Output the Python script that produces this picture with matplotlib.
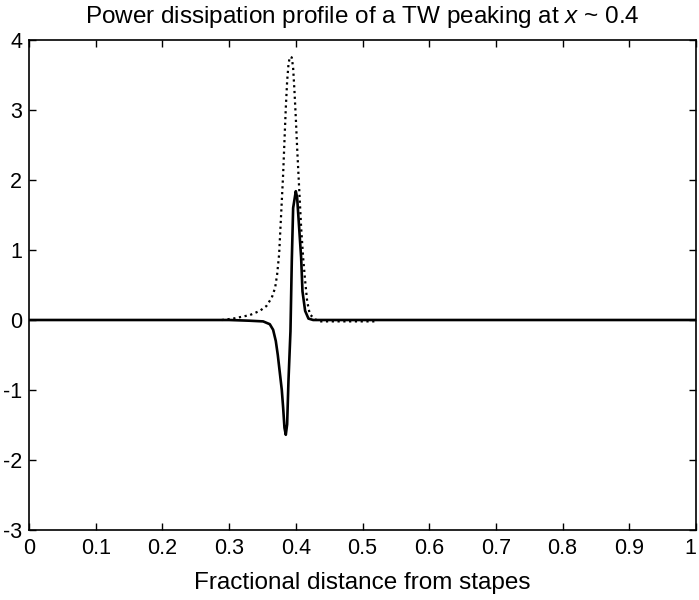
import matplotlib
matplotlib.use("Agg")
import matplotlib.pyplot as plt

plt.rcParams["font.family"] = ["Liberation Sans", "DejaVu Sans"]
plt.rcParams["axes.unicode_minus"] = False
plt.rcParams["mathtext.fontset"] = "custom"
plt.rcParams["mathtext.it"] = "Liberation Sans:italic"
plt.rcParams["mathtext.rm"] = "Liberation Sans"

# dotted curve
dot_x = [0.289, 0.306, 0.331, 0.346, 0.356, 0.364, 0.369, 0.372, 0.375, 0.377,
         0.379, 0.381, 0.383, 0.385, 0.387, 0.389, 0.391, 0.394, 0.396, 0.398,
         0.400, 0.402, 0.404, 0.406, 0.408, 0.411, 0.414, 0.417, 0.421, 0.429,
         0.436, 0.519]
dot_y = [0.0, 0.02, 0.07, 0.13, 0.20, 0.32, 0.46, 0.65, 0.94, 1.32,
         1.70, 2.08, 2.56, 3.03, 3.41, 3.65, 3.76, 3.75, 3.60, 3.27,
         2.89, 2.46, 2.08, 1.70, 1.32, 0.89, 0.56, 0.27, 0.08, 0.01,
         -0.02, -0.02]

# solid curve
sol_x = [0.0, 0.30, 0.33, 0.351, 0.361, 0.366, 0.370, 0.373, 0.376, 0.379,
         0.381, 0.383, 0.385, 0.387, 0.389, 0.392, 0.394, 0.396, 0.400, 0.402,
         0.405, 0.408, 0.410, 0.414, 0.419, 0.426, 1.0]
sol_y = [0.0, 0.0, -0.01, -0.02, -0.06, -0.14, -0.30, -0.50, -0.75, -1.0,
         -1.25, -1.54, -1.64, -1.49, -0.87, -0.16, 0.85, 1.60, 1.84, 1.75,
         1.32, 0.89, 0.41, 0.13, 0.02, 0.0, 0.0]

x_ticks = [0, 0.1, 0.2, 0.3, 0.4, 0.5, 0.6, 0.7, 0.8, 0.9, 1]
x_labels = ["0", "0.1", "0.2", "0.3", "0.4", "0.5", "0.6", "0.7", "0.8", "0.9", "1"]
y_ticks = [-3, -2, -1, 0, 1, 2, 3, 4]

fig = plt.figure(figsize=(6.99, 6.0), dpi=100)
ax = fig.add_axes([0.0415, 0.1167, 0.9542, 0.8166])

ax.plot(dot_x, dot_y, color="black", linestyle=(0, (1, 1.6)), linewidth=1.6)
ax.plot(sol_x, sol_y, color="black", linestyle="-", linewidth=1.9)

ax.set_xlim(0, 1)
ax.set_ylim(-3, 4)
ax.set_xticks(x_ticks)
ax.set_xticklabels(x_labels)
ax.set_yticks(y_ticks)
ax.tick_params(direction="in", length=5, width=1, top=True, right=True,
               labelsize=15.5)
ax.tick_params(axis="x", pad=6)
ax.tick_params(axis="y", pad=5)
ax.get_xticklabels()[-1].set_horizontalalignment("right")
for sp in ax.spines.values():
    sp.set_linewidth(1.2)

ax.set_title("Power dissipation profile of a TW peaking at $x$ ~ 0.4",
             fontsize=17.5, pad=12)
ax.set_xlabel("Fractional distance from stapes", fontsize=17.5, labelpad=9)

fig.savefig("out.png", dpi=100, facecolor="white")
